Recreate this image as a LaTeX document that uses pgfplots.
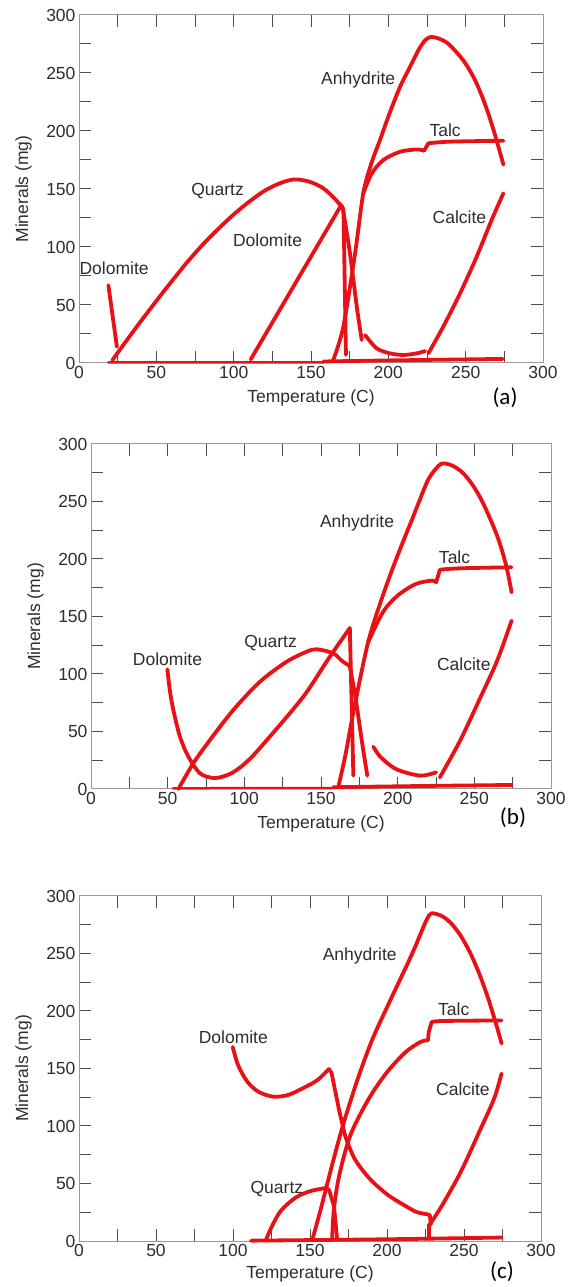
\documentclass[border=0pt]{standalone}
\usepackage{pgfplots}
\pgfplotsset{compat=1.18}
\usepackage{fontspec}
\setmainfont{Liberation Sans}
\newfontfamily\labfont{Carlito}
\definecolor{cr}{RGB}{232,18,22}
\definecolor{txt}{RGB}{45,45,45}
\newcommand{\lf}{\fontsize{17.5}{20}\selectfont}
\pgfplotsset{
  panel/.style={
    scale only axis, anchor=south west,
    xmin=0, xmax=300, ymin=0, ymax=300,
    xtick={0,50,...,300}, ytick={0,50,...,300},
    minor xtick={25,50,...,275}, minor ytick={25,50,...,275},
    major tick length=0pt, minor tick length=12pt,
    xtick pos=both, ytick pos=both,
    xticklabel pos=lower, yticklabel pos=left,
    tick align=inside,
    minor tick style={line width=1pt, color=black!70},
    axis line style={line width=1pt, color=black!40},
    tick label style={font=\lf, text=txt},
    /pgf/number format/assume math mode=true,
    clip=false,
    every axis plot/.append style={cr, line width=3.8pt, line join=round, line cap=round, mark=none},
  },
  cv/.style={smooth, tension=0.5},
  st/.style={sharp plot},
}
\begin{document}
\begin{tikzpicture}
\useasboundingbox (0,0) rectangle (578pt,1287pt);
% ---------------- (a)
\begin{axis}[panel, at={(79pt,924pt)}, width=464pt, height=348pt]
\addplot[st, line width=2.5pt] coordinates {(19,0.5) (158,0.6)};
\addplot[cv] coordinates {(158,1.3) (200,2.2) (274,3.5)};
\addplot[st] coordinates {(19,67) (24.5,14)};
\addplot[cv] coordinates {(21.5,2.3) (30,18) (40,36) (50,53.5) (60,70.5) (70,87) (80,102) (90,115.5) (100,128) (110,139) (120,148.5) (130,155) (138.6,158.2) (146,157.3) (152,154.8) (158,150.5) (164,143.5) (170.5,134)};
\addplot[cv] coordinates {(170.5,134) (175.2,94.5) (179.6,48.5) (182.8,19.8)};
\addplot[st] coordinates {(111,3) (140,69) (169.5,136)};
\addplot[st] coordinates {(169.5,136) (171,132) (172.6,7)};
\addplot[cv] coordinates {(164.4,2.6) (170.9,31.3) (178.5,94.5) (183.8,146.3) (189,172) (194.6,192.2) (201,216) (207.6,238.2) (212,250) (216.2,261.2) (220,271) (224,278.5) (227.5,281) (232,280) (238,276) (244,268) (250,258) (256,244) (262,225) (268,201) (274.4,171)};
\addplot[cv] coordinates {(183.8,146.3) (189.3,163.4) (196.8,175) (207.6,182.1) (218.4,184.1) (223.1,183)};
\addplot[st] coordinates {(223.1,183) (225.9,189.4)};
\addplot[cv] coordinates {(225.9,189.4) (239.9,190.8) (274.4,191.6)};
\addplot[cv] coordinates {(184.9,24.1) (192.5,12.6) (201.1,8.3) (209.7,6.9) (218.4,8.3) (223.7,10.3)};
\addplot[cv] coordinates {(225.9,8.3) (235.5,31.3) (246.4,60.1) (257.1,91.6) (266.8,123.3) (274.4,146.3)};
\node[font=\lf, text=txt] at (axis cs:22.7,81.4) {Dolomite};
\node[font=\lf, text=txt] at (axis cs:89.6,148.4) {Quartz};
\node[font=\lf, text=txt] at (axis cs:121.9,105.8) {Dolomite};
\node[font=\lf, text=txt] at (axis cs:180.5,244) {Anhydrite};
\node[font=\lf, text=txt] at (axis cs:236.7,200.8) {Talc};
\node[font=\lf, text=txt] at (axis cs:246,126) {Calcite};
\node[font=\lf, text=txt] at ([yshift=-35pt]rel axis cs:0.5,0) {Temperature (C)};
\node[font=\lf, text=txt, rotate=90] at ([xshift=-55.5pt]rel axis cs:0,0.5) {Minerals (mg)};
\node[font=\labfont\fontsize{23}{26}\selectfont, text=black] at ([xshift=-38pt,yshift=-35pt]rel axis cs:1,0) {(a)};
\end{axis}
% ---------------- (b)
\begin{axis}[panel, at={(91pt,498pt)}, width=460pt, height=345pt]
\addplot[st, line width=2.5pt] coordinates {(53.5,0.6) (157,0.8)};
\addplot[cv] coordinates {(158,1.5) (210,2.5) (274.3,3.5)};
\addplot[cv] coordinates {(49.8,104.1) (51.5,85) (53.7,68.7) (58,45.5) (63.5,28.1) (71.1,13.6) (79.8,9.5) (86,10.8) (92,14) (98,19.5) (105,28) (114,41.5) (125,58.5) (140,83) (155,113.5) (168.8,140)};
\addplot[st] coordinates {(168.8,140) (171.1,11.6)};
\addplot[cv] coordinates {(57,0) (66.7,22.3) (77.6,42.6) (92.8,68.7) (110.2,93.3) (127.6,110.7) (140.7,119.4) (147.2,121.5) (158,118) (164,111) (168.7,107.2)};
\addplot[cv] coordinates {(168.7,107.2) (172.3,81.2) (177.1,37.7) (180.2,11.6)};
\addplot[cv] coordinates {(184.1,36.8) (188,29) (192.7,23.2) (198,18) (204.7,14.5) (214.3,11.6) (220,12.5) (225.1,14.5)};
\addplot[cv] coordinates {(227.5,10.1) (240.7,42) (252.7,76) (264.7,111) (274.3,146.4)};
\addplot[cv] coordinates {(161.5,2.9) (166,30) (171.1,66.7) (180.7,127.5) (190.3,168.1) (199.9,202.9) (209.5,234.8) (219.1,266.7) (224,277) (228,282.5) (231,283) (236,281) (242,275.5) (248,266) (254,253) (260,236) (266,216) (271,193) (274.3,171)};
\addplot[cv] coordinates {(180.7,127.5) (190.3,153.6) (199.9,168.1) (211.9,178.3) (222.7,181.2) (225.1,179.7)};
\addplot[st] coordinates {(225.1,179.7) (227.5,190.7)};
\addplot[cv] coordinates {(227.5,190.7) (240.7,191.9) (274.3,192.8)};
\node[font=\lf, text=txt] at (axis cs:49.9,113) {Dolomite};
\node[font=\lf, text=txt] at (axis cs:117.1,127) {Quartz};
\node[font=\lf, text=txt] at (axis cs:173.5,231.3) {Anhydrite};
\node[font=\lf, text=txt] at (axis cs:237.1,201.4) {Talc};
\node[font=\lf, text=txt] at (axis cs:243.1,108.7) {Calcite};
\node[font=\lf, text=txt] at ([yshift=-35pt]rel axis cs:0.5,0) {Temperature (C)};
\node[font=\lf, text=txt, rotate=90] at ([xshift=-55.5pt]rel axis cs:0,0.5) {Minerals (mg)};
\node[font=\labfont\fontsize{23}{26}\selectfont, text=black] at ([xshift=-38pt,yshift=-29pt]rel axis cs:1,0) {(b)};
\end{axis}
% ---------------- (c)
\begin{axis}[panel, at={(79pt,46pt)}, width=462pt, height=345pt]
\addplot[cv] coordinates {(111.7,0.3) (200,1.5) (274.4,3)};
\addplot[cv] coordinates {(99.8,168.8) (103.3,152.9) (109.3,138.5) (116.5,129.8) (126.1,125.5) (135.6,126.9) (145.2,132.7) (154.8,139.9) (162.3,149.6)};
\addplot[st] coordinates {(162.3,149.6) (164,146) (169.1,112.5) (172.7,92)};
\addplot[cv] coordinates {(172.7,92) (178.7,72.1) (188.3,54.8) (200.2,40.4) (212.2,30.3) (219.4,25.1) (226.6,23.1) (227.8,22.5)};
\addplot[st] coordinates {(227.8,22.5) (228.5,14.4)};
\addplot[st] coordinates {(227.5,14) (227.5,2)};
\addplot[cv] coordinates {(121.3,0.6) (125,12) (130.9,26) (140.4,37.5) (150,43.3) (160.8,46.2)};
\addplot[st] coordinates {(160.8,46.2) (162.5,44) (165.6,30) (167.5,2.9)};
\addplot[cv] coordinates {(151.9,2.9) (157.2,28.8) (164.4,66.3) (171.5,101) (181.1,141.3) (190.7,176) (202.6,210.6) (208,226) (214,243) (219,258) (223,271) (226,280) (229,285) (236,282.3) (242,275.7) (248,265.1) (254,250.6) (260,232.1) (266,209.7) (272,183.3) (274.4,171.7)};
\addplot[cv] coordinates {(164.4,2.9) (165.6,28.8) (169.1,57.7) (176.3,92.3) (188.3,124) (200.2,147.1) (212.2,164.4) (221.8,173.1) (226.6,174.5)};
\addplot[st] coordinates {(226.6,174.5) (227.1,181.7) (229,190.4)};
\addplot[cv] coordinates {(229,190.4) (236.1,191.3) (274.4,191.8)};
\addplot[cv] coordinates {(227.8,14.4) (236.1,31.7) (248.1,60.6) (260,95.2) (269.6,124) (274.4,145.7)};
\node[font=\lf, text=txt] at (axis cs:100.2,177.4) {Dolomite};
\node[font=\lf, text=txt] at (axis cs:128.5,45.3) {Quartz};
\node[font=\lf, text=txt] at (axis cs:182.3,247.5) {Anhydrite};
\node[font=\lf, text=txt] at (axis cs:243.3,201.3) {Talc};
\node[font=\lf, text=txt] at (axis cs:249.3,131.8) {Calcite};
\node[font=\lf, text=txt] at ([yshift=-33pt]rel axis cs:0.5,0) {Temperature (C)};
\node[font=\lf, text=txt, rotate=90] at ([xshift=-55.5pt]rel axis cs:0,0.5) {Minerals (mg)};
\node[font=\labfont\fontsize{23}{26}\selectfont, text=black] at ([xshift=-39pt,yshift=-31pt]rel axis cs:1,0) {(c)};
\end{axis}
\end{tikzpicture}
\end{document}
